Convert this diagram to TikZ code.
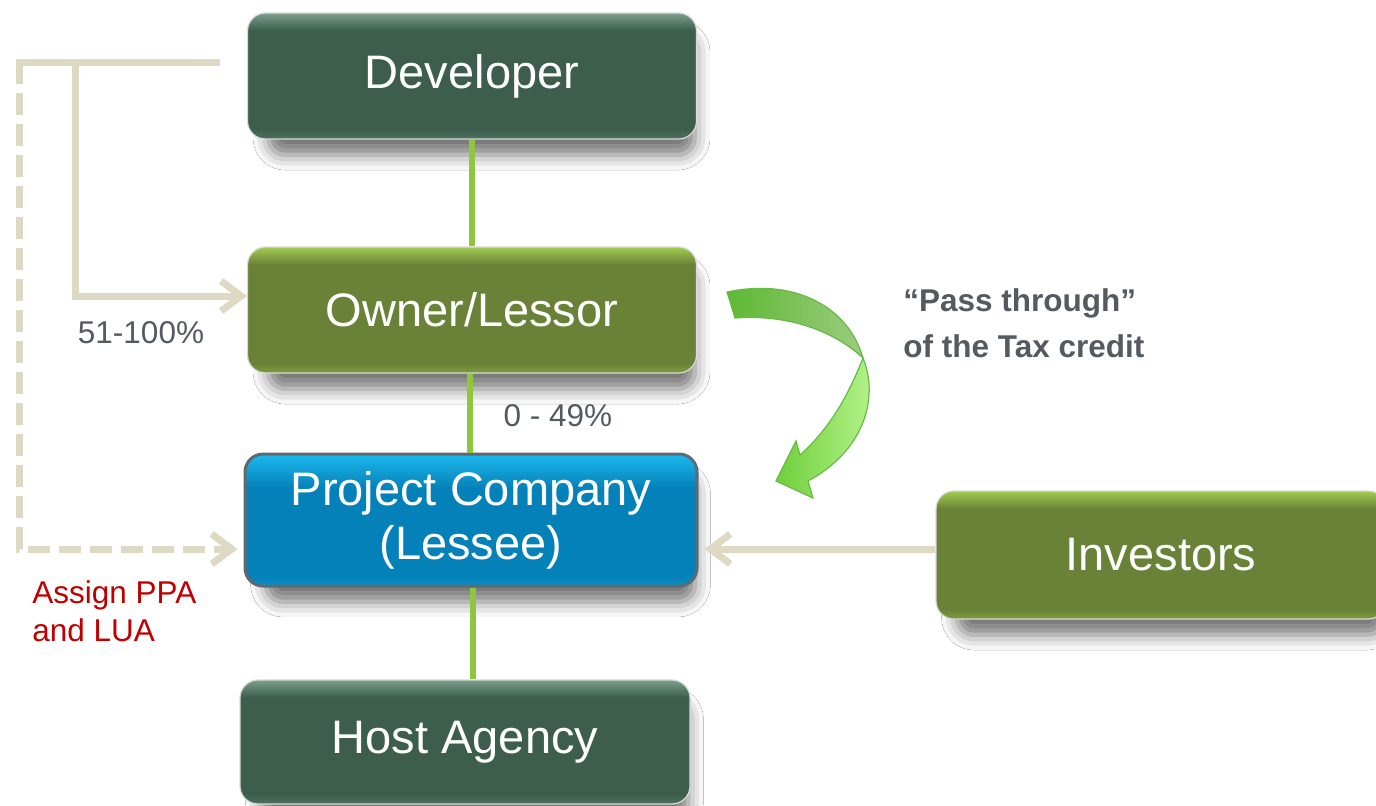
\documentclass[tikz,border=0pt]{standalone}
\usepackage{fontspec}
\setmainfont{Liberation Sans}
\usetikzlibrary{arrows.meta,shadows.blur,calc}

\definecolor{devbase}{HTML}{3D5E4D}
\definecolor{devtop}{HTML}{7BA08C}
\definecolor{devbot}{HTML}{4E7260}
\definecolor{ownbase}{HTML}{698237}
\definecolor{owntop}{HTML}{A2CC50}
\definecolor{ownbot}{HTML}{7E9C3C}
\definecolor{pcbase}{HTML}{0381B8}
\definecolor{pctop}{HTML}{1DB8EE}
\definecolor{pcbot}{HTML}{0A8FC8}
\definecolor{pcedge}{HTML}{5E6A72}
\definecolor{beige}{HTML}{DDD9C3}
\definecolor{linkgreen}{HTML}{8DC63F}
\definecolor{labelgray}{HTML}{545A60}
\definecolor{assignred}{HTML}{C00000}
\definecolor{arrA}{HTML}{5EB832}
\definecolor{arrB}{HTML}{9CCB80}
\definecolor{arrC}{HTML}{6FCF3A}
\definecolor{arrD}{HTML}{B8F590}
\definecolor{arrEdge}{HTML}{66BB44}

\pgfdeclareverticalshading{devshade}{100bp}{color(0bp)=(devbot); color(25bp)=(devbot); color(29bp)=(devbase); color(68bp)=(devbase); color(75bp)=(devtop); color(100bp)=(devtop)}
\pgfdeclareverticalshading{ownshade}{100bp}{color(0bp)=(ownbot); color(25bp)=(ownbot); color(29bp)=(ownbase); color(68bp)=(ownbase); color(75bp)=(owntop); color(100bp)=(owntop)}
\pgfdeclareverticalshading{pcshade}{100bp}{color(0bp)=(pcbot); color(25bp)=(pcbot); color(29bp)=(pcbase); color(62bp)=(pcbase); color(75bp)=(pctop); color(100bp)=(pctop)}

\tikzset{
  box/.style={rounded corners=9pt, minimum width=224.5pt, minimum height=63pt,
    text=white, font=\fontsize{23.5}{27}\selectfont, align=center,
    blur shadow={shadow xshift=5pt, shadow yshift=-10pt, shadow scale=0.95, shadow blur radius=8pt, shadow opacity=55},
    draw=white!70!gray, line width=0.6pt},
  darkbox/.style={box, shade, shading=devshade},
  greenbox/.style={box, shade, shading=ownshade},
  bluebox/.style={box, shade, shading=pcshade, draw=pcedge, line width=1.5pt},
  link/.style={draw=linkgreen, line width=3pt},
  beigeline/.style={draw=beige, line width=3.5pt},
  beigearrow/.style={beigeline, -{Straight Barb[length=10pt,width=15pt]}},
  dashline/.style={dash pattern=on 11pt off 4.5pt},
  lbl/.style={inner sep=0pt, text=labelgray, font=\fontsize{15.75}{19}\selectfont},
}

\begin{document}
\begin{tikzpicture}[x=0.5pt, y=-0.5pt]
\fill[white] (0,0) rectangle (1376,805);
\useasboundingbox (0,0) rectangle (1376,805);

% boxes
\node[darkbox] (dev) at (472,76) {Developer};
\node[greenbox] (own) at (472,310) {Owner/Lessor};
\node[bluebox, minimum width=226pt, minimum height=66pt] (pc) at (471,520) {Project Company\\(Lessee)};
\node[darkbox, minimum width=225pt, minimum height=62pt] (host) at (465,742) {Host Agency};
\node[greenbox, minimum width=225pt, minimum height=64pt] (inv) at (1161,555) {Investors};

% green links
\draw[link] (dev.south) -- (own.north);
\draw[link] ([xshift=-1pt]own.south) -- ([xshift=-1pt]own.south |- pc.north);
\draw[link] ([xshift=1pt]pc.south) -- ([xshift=1pt]pc.south |- host.north);

% beige connectors
\coordinate (topend) at (220,62);
\coordinate (topleft) at (16,62);
\coordinate (branch) at (75,62);
\coordinate (dcorner) at (19,62);
\draw[beigeline] (topend) -- (topleft);
\draw[beigearrow] (branch) |- ([yshift=7pt]own.west);
\draw[beigearrow, dashline] (dcorner) |- ([yshift=-14.5pt,xshift=-3pt]pc.west);
\draw[beigearrow] ([yshift=3pt]inv.west) -- ([yshift=3pt,xshift=3pt]inv.west -| pc.east);

% curved arrow
\path[draw=arrEdge, line width=0.6pt, left color=arrA, right color=arrB]
  (727,292) .. controls (792,278) and (848,305) .. (863,358)
  .. controls (835,332) and (790,314) .. (735,318) -- cycle;
\path[draw=arrEdge, line width=0.6pt, left color=arrC, right color=arrD]
  (863,358) .. controls (880,400) and (862,452) .. (808,481)
  -- (813,498) -- (776,481) -- (796,441) -- (800,455)
  .. controls (830,428) and (848,396) .. (863,358) -- cycle;

% labels
\node[lbl] (l51) at (141,333) {51-100\%};
\node[lbl] (l049) at (558,416) {0 - 49\%};
\node[lbl, text=assignred, align=left, anchor=west] (assign) at (32,611) {Assign PPA\\and LUA};
\node[lbl, font=\fontsize{15.75}{23}\selectfont\bfseries, align=left, anchor=west] (pass) at (903,323) {“Pass through”\\of the Tax credit};
\end{tikzpicture}
\end{document}
